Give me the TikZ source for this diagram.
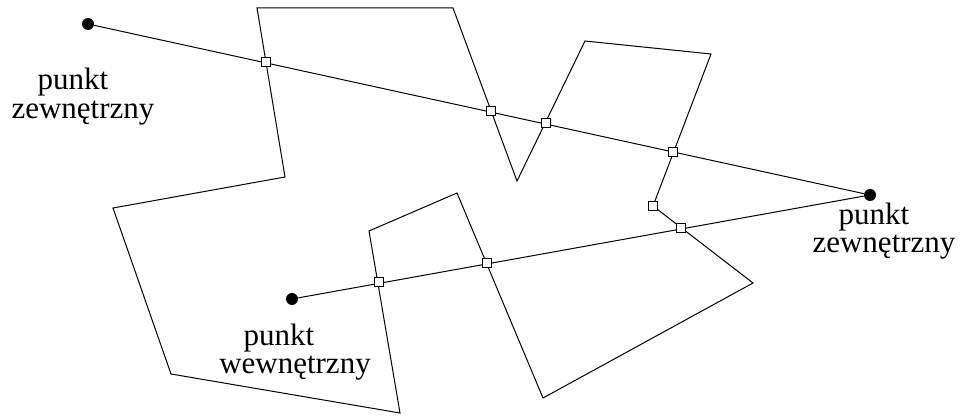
\documentclass[tikz,border=0pt]{standalone}
\usepackage{fontspec}
\setmainfont{Liberation Serif}
\usetikzlibrary{positioning}
\tikzset{
  dot/.style={circle, fill=black, inner sep=0pt, minimum size=6pt},
  hit/.style={draw, fill=white, inner sep=0pt, minimum size=4.2pt, line width=0.4pt},
  desc/.style={font=\fontsize{15.5}{14}\selectfont, inner sep=0pt, anchor=base},
  poly/.style={line width=0.5pt, line join=miter},
  ray/.style={line width=0.5pt},
}
\begin{document}
\begin{tikzpicture}[x=0.5pt, y=-0.5pt]
  \useasboundingbox (0,0) rectangle (962,416);

  % Polygon
  \draw[poly] (257,8) -- (453,8) -- (517,181) -- (585,41) -- (711,54) -- (653,206)
    -- (753,283) -- (543,398) -- (457,193) -- (369,231) -- (400,413) -- (171,374)
    -- (113,208) -- (285,177) -- cycle;

  % Points
  \node[dot] (outA) at (88,24) {};
  \node[dot] (outB) at (870,195) {};
  \node[dot] (inC) at (292,299) {};

  % Rays
  \draw[ray] (outA) -- (outB);
  \draw[ray] (outB) -- (inC);

  % Crossings
  \node[hit] (h1) at (266,62) {};
  \node[hit] (h2) at (491,111) {};
  \node[hit] (h3) at (546,123) {};
  \node[hit] (h4) at (673,152) {};
  \node[hit] (h5) at (653,206) {};
  \node[hit] (h6) at (681,228) {};
  \node[hit] (h7) at (487,263) {};
  \node[hit] (h8) at (379,282) {};

  % Labels
  \node[desc] (tA1) at (73,90) {punkt};
  \node[desc] (tA2) at (83,119) {zewnętrzny};
  \node[desc] (tB1) at (874,225) {punkt};
  \node[desc] (tB2) at (884,253) {zewnętrzny};
  \node[desc] (tC1) at (279,345) {punkt};
  \node[desc] (tC2) at (295,373) {wewnętrzny};
\end{tikzpicture}
\end{document}
